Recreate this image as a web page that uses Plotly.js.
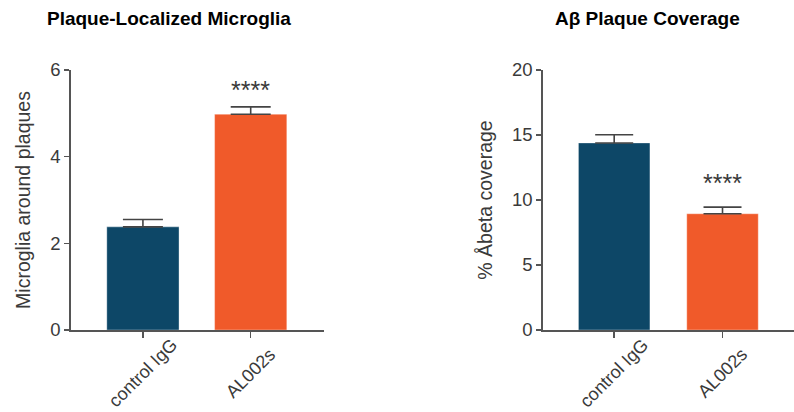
<!DOCTYPE html>
<html>
<head>
<meta charset="utf-8">
<script src="https://cdn.plot.ly/plotly-3.0.1.min.js"></script>
<style>html,body{margin:0;padding:0;background:#fff;}#chart{width:794px;height:412px;}</style>
</head>
<body>
<div id="chart"></div>
<script>
// Data
const categories = ["control IgG", "AL002s"];
const microgliaValues = [2.38, 4.98];
const microgliaErrors = [0.17, 0.17];
const coverageValues = [14.39, 8.94];
const coverageErrors = [0.63, 0.51];
const barColors = ["#0d4767", "#f05a2a"];
const leftTitle = "Plaque-Localized Microglia";
const rightTitle = "Aβ Plaque Coverage";
const leftYTitle = "Microglia around plaques";
const rightYTitle = "% Åbeta coverage";
const leftTicks = [0, 2, 4, 6];
const rightTicks = [0, 5, 10, 15, 20];
const sigLabel = "****";
const leftStarY = 5.55;
const rightStarY = 11.3;

const fontFam = "Liberation Sans, Arial, sans-serif";
const textCol = "#3a3a3a";
const axisCol = "#555555";

const traces = [
  {
    type: "bar", x: categories, y: microgliaValues, xaxis: "x", yaxis: "y",
    width: 0.67,
    marker: {color: barColors, line: {color: "rgba(255,255,255,0.35)", width: 1}},
    error_y: {type: "data", symmetric: false, array: microgliaErrors, arrayminus: [0, 0],
      color: "#444", thickness: 1.6, width: 20},
    hoverinfo: "skip", showlegend: false
  },
  {
    type: "bar", x: categories, y: coverageValues, xaxis: "x2", yaxis: "y2",
    width: 0.66,
    marker: {color: barColors, line: {color: "rgba(255,255,255,0.35)", width: 1}},
    error_y: {type: "data", symmetric: false, array: coverageErrors, arrayminus: [0, 0],
      color: "#444", thickness: 1.6, width: 19},
    hoverinfo: "skip", showlegend: false
  }
];

const xAxisBase = {
  type: "category", showgrid: false, zeroline: false, showline: true,
  linecolor: axisCol, linewidth: 1.5, ticks: "outside", ticklen: 6, tickwidth: 1.5,
  tickcolor: axisCol, showticklabels: false, automargin: false
};
const yAxisBase = {
  showgrid: false, zeroline: false, showline: true, linecolor: axisCol, linewidth: 1.5,
  ticks: "outside", ticklen: 5, tickwidth: 1.5, tickcolor: axisCol, automargin: false,
  tickfont: {family: fontFam, size: 18.5, color: textCol}, tickmode: "array"
};

const annotations = [
  {text: "<b>" + leftTitle + "</b>", xref: "paper", yref: "paper", x: 169/794, y: 1 - 19/412,
   xanchor: "center", yanchor: "middle", showarrow: false, font: {family: fontFam, size: 19, color: "#000"}},
  {text: "<b>" + rightTitle + "</b>", xref: "paper", yref: "paper", x: 647.5/794, y: 1 - 19/412,
   xanchor: "center", yanchor: "middle", showarrow: false, font: {family: fontFam, size: 19, color: "#000"}},
  {text: sigLabel, xref: "x", yref: "y", x: categories[1], y: leftStarY, showarrow: false,
   yanchor: "middle", font: {family: fontFam, size: 25, color: textCol}},
  {text: sigLabel, xref: "x2", yref: "y2", x: categories[1], y: rightStarY, showarrow: false,
   yanchor: "middle", font: {family: fontFam, size: 25, color: textCol}}
];
// rotated category labels centred under each tick
["x", "x2"].forEach(function (ax) {
  categories.forEach(function (c) {
    annotations.push({text: c, xref: ax, yref: "paper", x: c, y: 1 - 373/412,
      xanchor: "center", yanchor: "middle", textangle: -45, showarrow: false,
      font: {family: fontFam, size: 18, color: textCol}});
  });
});

const layout = {
  width: 794, height: 412,
  margin: {l: 0, r: 0, t: 0, b: 0},
  paper_bgcolor: "#ffffff", plot_bgcolor: "#ffffff",
  xaxis: Object.assign({}, xAxisBase, {domain: [70.7/794, 324/794], range: [-0.67, 1.68], anchor: "y"}),
  yaxis: Object.assign({}, yAxisBase, {domain: [82/412, 342/412], range: [0, 6], tickvals: leftTicks,
    anchor: "x", title: {text: leftYTitle, font: {family: fontFam, size: 19.5, color: textCol}, standoff: 14}}),
  xaxis2: Object.assign({}, xAxisBase, {domain: [542.7/794, 1], range: [-0.66, 1.66], anchor: "y2"}),
  yaxis2: Object.assign({}, yAxisBase, {domain: [82/412, 342/412], range: [0, 20], tickvals: rightTicks,
    anchor: "x2", title: {text: rightYTitle, font: {family: fontFam, size: 19.5, color: textCol}, standoff: 14}}),
  annotations: annotations
};

Plotly.newPlot("chart", traces, layout, {staticPlot: true, displayModeBar: false});
</script>
</body>
</html>
